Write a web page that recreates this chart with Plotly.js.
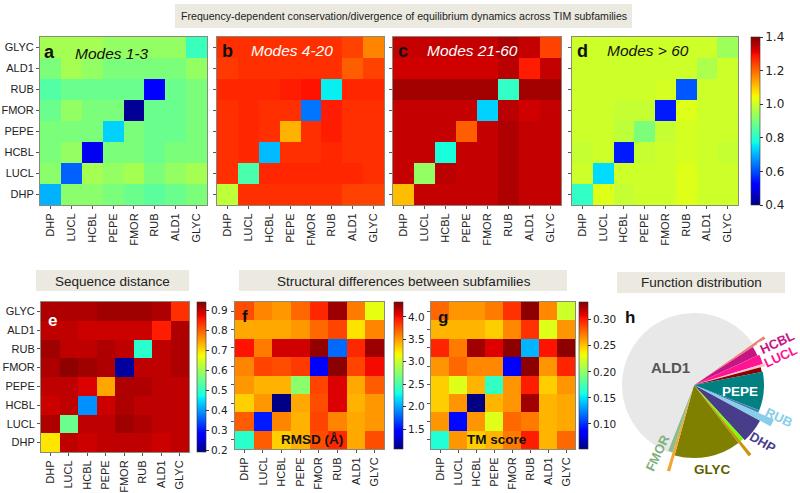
<!DOCTYPE html>
<html><head><meta charset="utf-8">
<script src="https://cdn.plot.ly/plotly-3.0.1.min.js"></script>
<style>html,body{margin:0;padding:0;background:#fff}#chart{width:800px;height:493px}</style>
</head><body><div id="chart"></div>
<script>
// ---------- DATA ----------
const subfamilies = ['DHP','LUCL','HCBL','PEPE','FMOR','RUB','ALD1','GLYC'];
// rows follow subfamilies (DHP bottom ... GLYC top), columns follow subfamilies (DHP left ... GLYC right)
const modes1to3 = [
  [0.70,0.92,0.92,0.90,0.88,0.86,0.88,0.90],
  [0.92,0.62,0.95,0.93,0.95,0.90,0.93,0.95],
  [0.90,0.93,0.50,0.90,0.90,0.88,0.90,0.90],
  [0.90,0.90,0.90,0.73,0.90,0.88,0.88,0.90],
  [0.88,0.93,0.90,0.90,0.42,0.88,0.88,0.90],
  [0.85,0.88,0.88,0.88,0.88,0.52,0.88,0.90],
  [0.90,0.95,0.93,0.90,0.90,0.90,0.90,0.93],
  [0.95,0.95,0.95,0.93,0.93,0.93,0.93,0.82]
];
const modes4to20 = [
  [0.98,1.26,1.26,1.26,1.26,1.26,1.24,1.24],
  [1.26,0.84,1.27,1.27,1.27,1.27,1.27,1.26],
  [1.26,1.27,0.71,1.26,1.26,1.27,1.26,1.26],
  [1.26,1.27,1.26,1.12,1.26,1.28,1.26,1.26],
  [1.26,1.27,1.26,1.26,0.64,1.28,1.26,1.26],
  [1.27,1.27,1.27,1.28,1.29,0.76,1.27,1.27],
  [1.25,1.26,1.26,1.26,1.26,1.26,1.21,1.24],
  [1.26,1.26,1.26,1.26,1.26,1.26,1.24,1.17]
];
const modes21to60 = [
  [1.11,1.34,1.34,1.34,1.34,1.36,1.34,1.34],
  [1.34,0.93,1.35,1.34,1.34,1.36,1.34,1.34],
  [1.34,1.34,0.78,1.34,1.34,1.36,1.34,1.34],
  [1.34,1.34,1.34,1.21,1.34,1.36,1.34,1.34],
  [1.34,1.34,1.34,1.34,0.73,1.35,1.33,1.34],
  [1.37,1.37,1.37,1.37,1.37,0.81,1.37,1.37],
  [1.33,1.33,1.33,1.33,1.33,1.35,1.28,1.34],
  [1.34,1.34,1.34,1.34,1.34,1.36,1.34,1.24]
];
const modesAbove60 = [
  [0.81,1.02,0.99,1.00,1.00,1.02,1.00,1.00],
  [1.00,0.74,1.00,1.00,1.00,1.02,1.00,1.00],
  [0.99,1.00,0.55,0.99,1.00,1.01,1.00,0.99],
  [1.00,1.00,0.98,0.90,0.99,1.01,1.00,1.00],
  [1.00,1.00,0.99,0.99,0.55,1.02,1.00,1.00],
  [1.00,1.00,1.00,1.00,1.01,0.61,1.00,1.00],
  [1.00,1.00,1.00,1.00,1.00,1.00,0.96,1.00],
  [1.00,1.00,1.00,1.00,1.00,1.00,1.00,0.94]
];
const sequenceDistance = [
  [0.69,0.90,0.89,0.90,0.90,0.90,0.89,0.90],
  [0.91,0.55,0.90,0.90,0.92,0.91,0.90,0.90],
  [0.89,0.90,0.39,0.89,0.91,0.90,0.90,0.90],
  [0.90,0.90,0.88,0.74,0.91,0.91,0.90,0.90],
  [0.91,0.93,0.92,0.91,0.21,0.90,0.90,0.91],
  [0.92,0.90,0.90,0.91,0.90,0.49,0.90,0.91],
  [0.90,0.90,0.89,0.89,0.89,0.89,0.85,0.91],
  [0.91,0.91,0.91,0.92,0.92,0.92,0.91,0.835]
];
const rmsd = [
  [2.37,3.72,3.32,3.42,3.77,3.90,3.45,3.77],
  [3.72,1.55,3.58,3.42,3.80,3.58,3.45,3.51],
  [3.32,3.51,1.08,3.45,3.77,4.07,3.42,3.51],
  [3.51,3.42,3.42,2.76,3.80,4.07,3.45,3.72],
  [3.58,3.80,3.77,3.84,1.45,4.30,3.80,4.00],
  [3.97,3.61,4.10,4.10,4.28,1.81,3.90,4.25],
  [3.45,3.45,3.45,3.51,3.68,3.80,3.25,3.58],
  [3.77,3.58,3.51,3.68,3.90,4.25,3.61,3.12]
];
const tmScore = [
  [0.162,0.264,0.247,0.255,0.272,0.300,0.255,0.278],
  [0.264,0.089,0.264,0.227,0.278,0.272,0.255,0.258],
  [0.247,0.264,0.053,0.255,0.264,0.326,0.255,0.258],
  [0.247,0.227,0.255,0.168,0.264,0.300,0.247,0.264],
  [0.264,0.278,0.268,0.268,0.086,0.331,0.264,0.298],
  [0.298,0.272,0.326,0.311,0.331,0.137,0.303,0.331],
  [0.255,0.255,0.255,0.247,0.268,0.294,0.227,0.264],
  [0.278,0.264,0.264,0.272,0.294,0.331,0.268,0.221]
];
// function distribution (clockwise from the HCBL edge), shares in percent and relative radius
const functionSlices = ['HCBL edge','HCBL','LUCL','LUCL edge','other','PEPE','RUB edge','RUB','DHP','other 2','other 3','GLYC','other 4','FMOR','ALD1'];
const functionShares = [0.6,2.2,2.2,0.6,1.1,8.9,0.6,1.4,5.3,0.8,0.6,14.7,0.6,1.1,59.3];
const functionRadius = [85,70,72,87,69,70,70,87,75,73,90,73,90,71,72];

// ---------- STYLE ----------
const sliceColors = ['#f08070','#c71585','#ff1493','#ffc0cb','#8b0000','#008080','#4682b4','#87ceeb','#483d8b','#7cfc00','#c8960c','#808000','#f4a430','#8fbc8f','#e8e8e8'];
const jet = [[0,'rgb(0,0,128)'],[0.11,'rgb(0,0,255)'],[0.125,'rgb(0,0,255)'],[0.34,'rgb(0,219,255)'],[0.35,'rgb(0,229,247)'],[0.375,'rgb(20,255,226)'],[0.64,'rgb(238,255,8)'],[0.66,'rgb(255,236,0)'],[0.89,'rgb(255,19,0)'],[0.91,'rgb(232,0,0)'],[1,'rgb(128,0,0)']];
const W = 800, H = 493;
const fx = p => p / W, fy = p => 1 - p / H;
const LBL = 'Liberation Sans, Arial, sans-serif';
const CBF = {family:'DejaVu Sans, sans-serif', size:11, color:'#222'};

function xa(x0, x1, anchor) {
  return {domain:[fx(x0), fx(x1)], anchor, type:'category', categoryorder:'array', categoryarray:subfamilies,
    tickangle:-90, ticks:'outside', ticklen:3, tickcolor:'#555', showline:true, linecolor:'#8a8a7a', linewidth:1, mirror:true,
    showgrid:false, zeroline:false, tickfont:{family:LBL, size:11, color:'#222'}, fixedrange:true};
}
function ya(y0, y1, anchor, labels) {
  return {domain:[fy(y1), fy(y0)], anchor, type:'category', categoryorder:'array', categoryarray:subfamilies,
    showticklabels:labels, ticks:'outside', ticklen:3, tickcolor:'#555', showline:true, linecolor:'#8a8a7a', linewidth:1, mirror:true,
    showgrid:false, zeroline:false, tickfont:{family:LBL, size:11, color:'#222'}, fixedrange:true};
}
function hm(z, xr, yr, ca) {
  return {type:'heatmap', z, x:subfamilies, y:subfamilies, xaxis:xr, yaxis:yr, coloraxis:ca, hoverinfo:'skip'};
}
function cbar(x0, y0, y1, tickvals, fmt, size) {
  return {x:fx(x0), xanchor:'left', y:fy((y0+y1)/2), yanchor:'middle', len:(y1-y0)/H, lenmode:'fraction',
    thickness:9, thicknessmode:'pixels', xpad:0, ypad:0, outlinewidth:0.6, outlinecolor:'#333',
    tickvals, tickformat:fmt, ticks:'outside', ticklen:3, tickcolor:'#333', tickfont:Object.assign({}, CBF, {size})};
}

const traces = [
  hm(modes1to3,'x','y','coloraxis'),
  hm(modes4to20,'x2','y2','coloraxis'),
  hm(modes21to60,'x3','y3','coloraxis'),
  hm(modesAbove60,'x4','y4','coloraxis'),
  hm(sequenceDistance,'x5','y5','coloraxis2'),
  hm(rmsd,'x6','y6','coloraxis3'),
  hm(tmScore,'x7','y7','coloraxis4')
];
// pie (rose) from shares
const theta = [], width = [];
let cum = 0;
functionShares.forEach(s => { theta.push((cum + s/2) * 3.6); width.push(s * 3.6); cum += s; });
traces.push({type:'barpolar', r:functionRadius, theta, width, marker:{color:sliceColors, line:{width:0}}, hoverinfo:'skip', text:functionSlices});

function boxShape(x0, y0, x1, y1) {
  return {type:'rect', xref:'paper', yref:'paper', x0:fx(x0), x1:fx(x1), y0:fy(y1), y1:fy(y0), fillcolor:'#ebe9e0', line:{width:0}, layer:'below'};
}
function txt(t, x, y, o) {
  return Object.assign({text:t, x:fx(x), y:fy(y), xref:'paper', yref:'paper', showarrow:false, xanchor:'center', yanchor:'middle',
    font:{family:LBL, size:12, color:'#222'}}, o || {});
}
const B = (size, color) => ({family:LBL, size, color, weight:'bold'});
const I = (size, color) => ({family:LBL, size, color, style:'italic'});

const annotations = [
  txt('Frequency-dependent conservation/divergence of equilibrium dynamics across TIM subfamilies', 404, 16, {font:{family:LBL, size:10.6, color:'#222'}}),
  txt('Sequence distance', 113, 281, {font:{family:LBL, size:13.5, color:'#222'}}),
  txt('Structural differences between subfamilies', 404, 281, {font:{family:LBL, size:13.5, color:'#222'}}),
  txt('Function distribution', 701, 282, {font:{family:LBL, size:13.5, color:'#222'}}),
  txt('<b>a</b>', 49, 52, {font:B(18,'#111')}),
  txt('<i>Modes 1-3</i>', 112, 53, {font:I(15.5,'#111')}),
  txt('<b>b</b>', 227, 51, {font:B(18,'#111')}),
  txt('<i>Modes 4-20</i>', 292, 51, {font:I(15.5,'#fff')}),
  txt('<b>c</b>', 403, 51, {font:B(18,'#111')}),
  txt('<i>Modes 21-60</i>', 472, 51, {font:I(15.5,'#fff')}),
  txt('<b>d</b>', 582, 51, {font:B(18,'#111')}),
  txt('<i>Modes &gt; 60</i>', 648, 51, {font:I(15.5,'#111')}),
  txt('<b>e</b>', 52, 320, {font:B(17,'#fff')}),
  txt('<b>f</b>', 245, 316, {font:B(17,'#111')}),
  txt('<b>g</b>', 443, 317, {font:B(17,'#111')}),
  txt('<b>h</b>', 630, 317, {font:B(17,'#111')}),
  txt('<b>RMSD (Å)</b>', 312, 439, {font:B(13.5,'#111')}),
  txt('<b>TM score</b>', 497, 439, {font:B(13.5,'#111')}),
  txt('<b>ALD1</b>', 670, 367, {font:B(15,'#555')}),
  txt('<b>PEPE</b>', 740, 391, {font:B(13.5,'#fff')}),
  txt('<b>GLYC</b>', 712, 469, {font:B(13.5,'#5f5f00')}),
  txt('<b>HCBL</b>', 777, 342, {font:B(13,'#c71585'), textangle:-25, bgcolor:'rgba(255,255,255,0.9)', borderpad:0}),
  txt('<b>LUCL</b>', 780, 356, {font:B(13,'#ff1493'), textangle:-25, bgcolor:'rgba(255,255,255,0.9)', borderpad:0}),
  txt('<b>RUB</b>', 779, 417, {font:B(13,'#87ceeb'), textangle:25}),
  txt('<b>DHP</b>', 763, 442, {font:B(13,'#483d8b'), textangle:30}),
  txt('<b>FMOR</b>', 657, 453, {font:B(13,'#7fb07f'), textangle:-65})
];

const layout = {
  width:W, height:H, margin:{l:0, r:0, t:0, b:0}, paper_bgcolor:'#fff', plot_bgcolor:'#fff', showlegend:false,
  font:{family:LBL, size:11, color:'#222'},
  xaxis:xa(40,207,'y'), yaxis:ya(37,205,'x',true),
  xaxis2:xa(217,384,'y2'), yaxis2:ya(37,205,'x2',false),
  xaxis3:xa(393,561,'y3'), yaxis3:ya(37,205,'x3',false),
  xaxis4:xa(572,738,'y4'), yaxis4:ya(37,205,'x4',false),
  xaxis5:xa(41,189,'y5'), yaxis5:ya(302,452,'x5',true),
  xaxis6:xa(235,384,'y6'), yaxis6:ya(302,449,'x6',false),
  xaxis7:xa(431,575,'y7'), yaxis7:ya(302,449,'x7',false),
  coloraxis:{cmin:0.4, cmax:1.4, colorscale:jet, colorbar:cbar(751,37,205,[0.4,0.6,0.8,1.0,1.2,1.4],'.1f',12)},
  coloraxis2:{cmin:0.19, cmax:0.94, colorscale:jet, colorbar:cbar(197,302,452,[0.2,0.3,0.4,0.5,0.6,0.7,0.8,0.9],'.1f',10.5)},
  coloraxis3:{cmin:1.06, cmax:4.33, colorscale:jet, colorbar:cbar(394,302,449,[1.5,2.0,2.5,3.0,3.5,4.0],'.1f',10.5)},
  coloraxis4:{cmin:0.052, cmax:0.334, colorscale:jet, colorbar:cbar(579,302,449,[0.10,0.15,0.20,0.25,0.30],'.2f',10.5)},
  polar:{domain:{x:[fx(604), fx(784)], y:[fy(475), fy(295)]}, bgcolor:'rgba(0,0,0,0)',
    radialaxis:{visible:false, range:[0,90]}, angularaxis:{visible:false, rotation:35, direction:'clockwise'}},
  shapes:[boxShape(175,4,632,28), boxShape(36,270,189,291), boxShape(239,270,567,291), boxShape(617,272,785,293)],
  annotations
};
Plotly.newPlot('chart', traces, layout, {staticPlot:true, displayModeBar:false});
</script>
</body></html>
